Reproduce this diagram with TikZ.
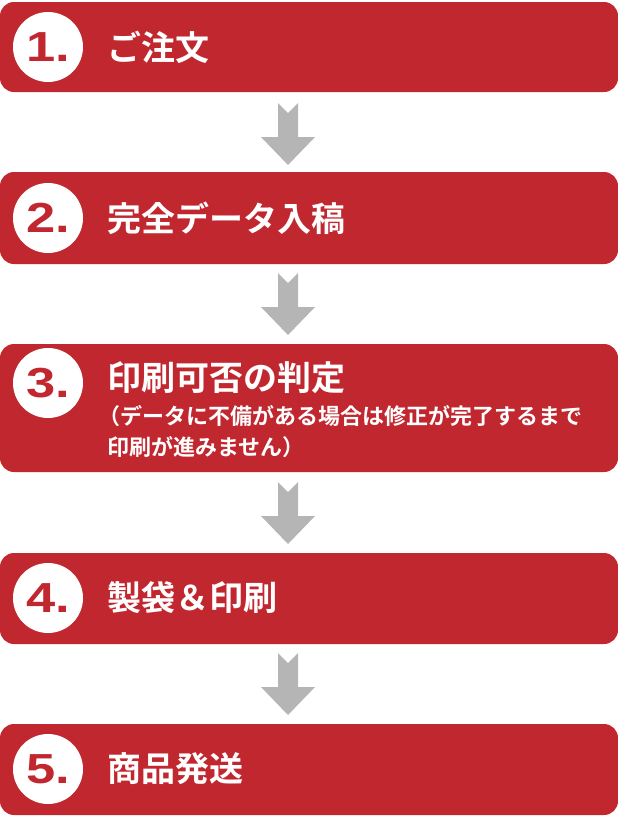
\documentclass[tikz,border=0pt]{standalone}
\usepackage{fontspec}
\newfontfamily\cjk{Noto Sans CJK JP}[BoldFont={Noto Sans CJK JP Bold}]
\setmainfont{Liberation Sans}
\definecolor{boxred}{HTML}{C1272F}
\definecolor{arrgray}{HTML}{B5B5B5}
\begin{document}
\begin{tikzpicture}[x=1pt,y=-1pt,
  stepbox/.style={fill=boxred,rounded corners=14pt},
  numcirc/.style={circle,fill=white,minimum size=70pt,inner sep=0pt,text=boxred,font=\fontsize{42}{42}\selectfont\bfseries},
  title/.style={anchor=west,text=white,font=\cjk\bfseries\fontsize{34}{34}\selectfont,inner sep=0pt},
  sub/.style={anchor=west,text=white,font=\cjk\bfseries\fontsize{22}{31}\selectfont,inner sep=0pt,align=left}]
\useasboundingbox (0,0) rectangle (618,817);
\def\arr#1{\fill[arrgray] (278,#1) -- (288,#1+10) -- (298,#1) -- (298,#1+34) -- (315,#1+34) -- (288,#1+62) -- (261,#1+34) -- (278,#1+34) -- cycle;}
\fill[stepbox] (0,2) rectangle (618,92);
\fill[stepbox] (0,172) rectangle (618,264);
\fill[stepbox] (0,344) rectangle (618,472);
\fill[stepbox] (0,553) rectangle (618,644);
\fill[stepbox] (0,724) rectangle (618,815);
\arr{103}\arr{273}\arr{482}\arr{653}
\node[numcirc] (c1) at (48,47) {\scalebox{1.25}[1]{1.}};
\node[numcirc] (c2) at (48,218) {\scalebox{1.25}[1]{2.}};
\node[numcirc] (c3) at (48,383) {\scalebox{1.25}[1]{3.}};
\node[numcirc] (c4) at (48,598) {\scalebox{1.25}[1]{4.}};
\node[numcirc] (c5) at (48,769) {\scalebox{1.25}[1]{5.}};
\node[title] (t1) at (107,47) {ご注文};
\node[title] (t2) at (107,218) {完全データ入稿};
\node[title] (t3) at (107,378) {印刷可否の判定};
\node[sub] (s3) at (98,432) {（データに不備がある場合は修正が完了するまで\\\hspace{9pt}印刷が進みません）};
\node[title] (t4) at (107,598) {製袋＆印刷};
\node[title] (t5) at (107,769) {商品発送};
\end{tikzpicture}
\end{document}
